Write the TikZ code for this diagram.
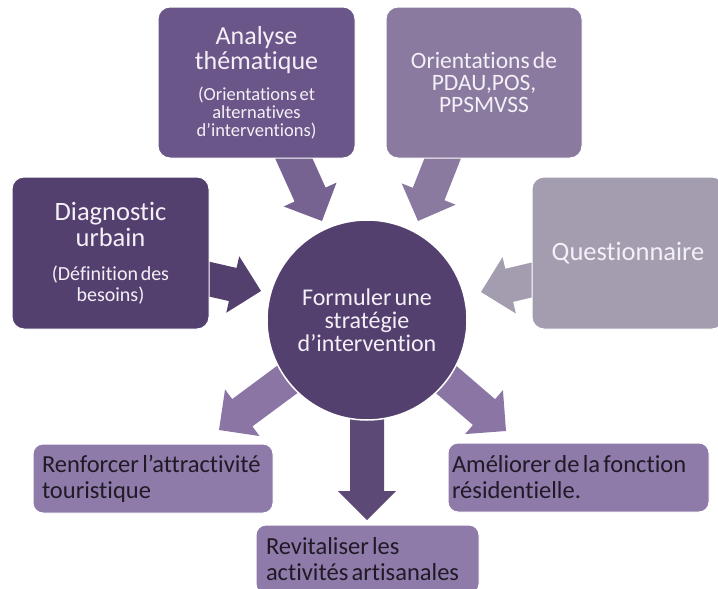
\documentclass[tikz,border=0pt]{standalone}
\usepackage{fontspec}
\setmainfont{Carlito}[Ligatures=NoCommon, WordSpace=0.6]
\usetikzlibrary{calc}
\definecolor{cdark}{HTML}{54406F}
\definecolor{cana}{HTML}{6B5689}
\definecolor{cori}{HTML}{8A7A9F}
\definecolor{cque}{HTML}{A49DAF}
\definecolor{cbot}{HTML}{8E7BA9}
\definecolor{carr}{HTML}{8A75A5}
\definecolor{ctxt}{HTML}{1F1A26}
\definecolor{cwt}{HTML}{F4F0F7}
\newcommand{\blockarrow}[3]{%
  \coordinate (hb) at ($(#2)!29pt!(#1)$);
  \fill[#3] ($(#1)!17pt!90:(#2)$) -- ($(hb)!17pt!90:(#2)$) -- ($(hb)!29pt!90:(#2)$) -- (#2)
    -- ($(hb)!29pt!-90:(#2)$) -- ($(hb)!17pt!-90:(#2)$) -- ($(#1)!17pt!-90:(#2)$) -- cycle;
}
\tikzset{
  topbox/.style={rectangle, rounded corners=12pt, draw=white, line width=1pt, inner sep=0pt,
    align=flush center, text=cwt},
  outbox/.style={rectangle, rounded corners=10pt, draw=white, line width=1pt, fill=cbot,
    text=ctxt, align=flush left, inner sep=0pt, font=\fontsize{24.5}{26}\selectfont},
}
\begin{document}
\begin{tikzpicture}[x=1pt, y=-1pt]
\useasboundingbox (0,0) rectangle (718,589);
% arrow end points
\coordinate (a1s) at (290,150);  \coordinate (a1e) at (322,221);
\coordinate (a2s) at (446,150);  \coordinate (a2e) at (418,221);
\coordinate (a3s) at (200,277);  \coordinate (a3e) at (261,291);
\coordinate (a4s) at (540,278);  \coordinate (a4e) at (481,292);
\coordinate (a5s) at (300,370);  \coordinate (a5e) at (219,430);
\coordinate (a6s) at (420,357);  \coordinate (a6e) at (506,431);
\coordinate (a7s) at (367,400);  \coordinate (a7e) at (367,520);
\blockarrow{a1s}{a1e}{cana!92!white}
\blockarrow{a2s}{a2e}{cori}
\blockarrow{a3s}{a3e}{cdark}
\blockarrow{a4s}{a4e}{cque}
\blockarrow{a5s}{a5e}{carr}
\blockarrow{a6s}{a6e}{carr}
\blockarrow{a7s}{a7e}{cdark!95!white}
% boxes
\node[topbox, fill=cana, minimum width=197pt, minimum height=151pt, text width=190pt] (ana) at (256.5,82.5)
  {\fontsize{26}{25}\selectfont Analyse\\thématique\par\vspace{13pt}\fontsize{18.5}{18}\selectfont (Orientations et\\alternatives\\d’interventions)\par};
\node[topbox, fill=cori, minimum width=196pt, minimum height=151pt, text width=190pt] (ori) at (484,82.5)
  {\fontsize{23.5}{22}\selectfont Orientations de\\PDAU,POS,\\PPSMVSS\par};
\node[topbox, fill=cdark, minimum width=197pt, minimum height=152pt, text width=190pt] (dia) at (110.5,253)
  {\fontsize{26.5}{26}\selectfont Diagnostic\\urbain\par\vspace{13pt}\fontsize{20}{21}\selectfont (Définition des\\besoins)\par};
\node[topbox, fill=cque, minimum width=192pt, minimum height=152pt, text width=190pt] (que) at (628,253)
  {\fontsize{26.5}{26}\selectfont Questionnaire\par};
\node[circle, fill=cdark, draw=white, line width=1.5pt, minimum size=200pt, inner sep=0pt,
  text=cwt, align=center, font=\fontsize{24}{23}\selectfont] (c) at (367,320)
  {Formuler une\\stratégie\\d’intervention};
\node[outbox, minimum width=240pt, minimum height=69pt, text width=222pt] (ren) at (153,478.5)
  {Renforcer l’attractivité\\touristique};
\node[outbox, minimum width=223pt, minimum height=69pt, text width=203pt] (rev) at (367.5,559.5)
  {Revitaliser les\\activités artisanales};
\node[outbox, minimum width=261pt, minimum height=69pt, text width=253pt] (ame) at (578.5,477.5)
  {Améliorer de la fonction\\résidentielle.};
\end{tikzpicture}
\end{document}
